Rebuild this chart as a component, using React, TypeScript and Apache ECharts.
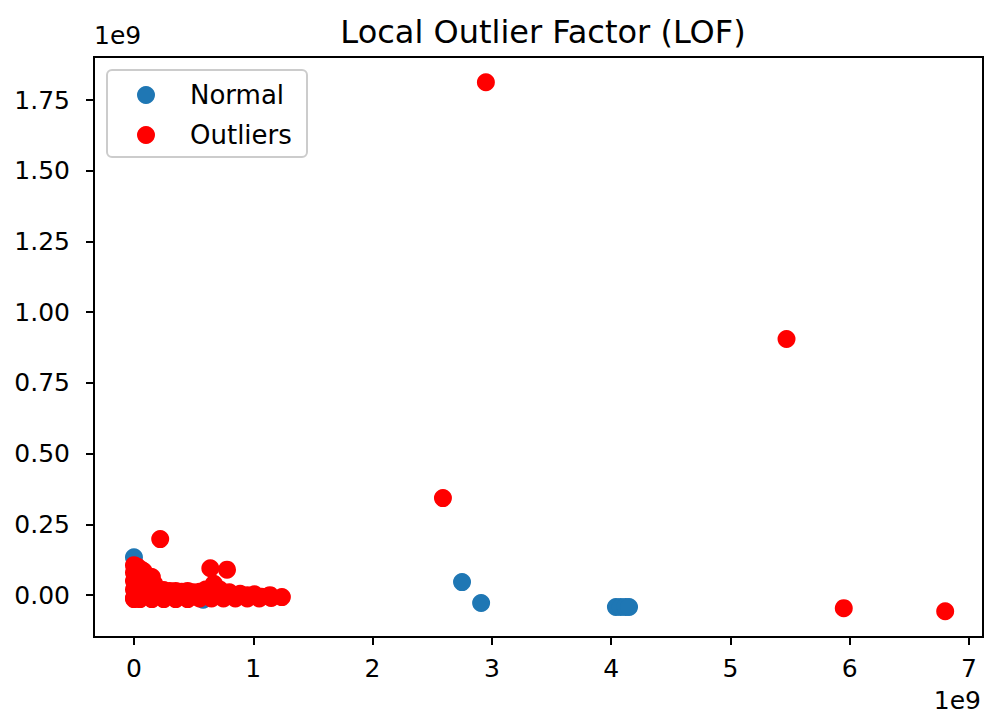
import React, { useEffect, useRef } from "react";
import * as echarts from "echarts";

// values in units of 1e9
const normalPoints: number[][] = [
  [0.0, 0.134], [0.05, 0.05], [0.3, 0.0], [0.58, -0.016],
  [2.75, 0.046], [2.91, -0.028],
  [4.04, -0.042], [4.08, -0.042], [4.12, -0.042], [4.15, -0.042],
];

const outlierPoints: number[][] = [
  [2.95, 1.813], [5.47, 0.905], [2.59, 0.343], [5.95, -0.046], [6.8, -0.057], [0.22, 0.198],
  [0.0, 0.106], [0.0, 0.08], [0.0, 0.05], [0.0, 0.02], [0.0, -0.01], [0.0, -0.014],
  [0.03, 0.1], [0.06, 0.09], [0.08, 0.085], [0.1, 0.07], [0.13, 0.066], [0.15, 0.064],
  [0.17, 0.04], [0.2, 0.02], [0.25, 0.018], [0.3, 0.015], [0.35, 0.015], [0.4, 0.012],
  [0.45, 0.015], [0.5, 0.01], [0.55, 0.012], [0.6, 0.02], [0.64, 0.095], [0.67, 0.04],
  [0.72, 0.02], [0.78, 0.09], [0.8, 0.01], [0.85, 0.0], [0.89, 0.005], [0.95, 0.0],
  [1.01, 0.003], [1.07, -0.006], [1.14, 0.0], [1.24, -0.007],
  [0.05, -0.014], [0.15, -0.014], [0.25, -0.014], [0.35, -0.014], [0.45, -0.014],
  [0.55, -0.012], [0.65, -0.012], [0.75, -0.012], [0.85, -0.012], [0.95, -0.012],
  [1.05, -0.012], [1.15, -0.01],
  [0.05, 0.03], [0.1, 0.01], [0.15, 0.03], [0.2, 0.0], [0.08, 0.05], [0.12, 0.04],
  [0.3, 0.0], [0.4, -0.005], [0.5, -0.005], [0.62, 0.0], [0.7, 0.0],
];

const xTicks = [0, 1, 2, 3, 4, 5, 6, 7];
const yTicks = [0, 0.25, 0.5, 0.75, 1.0, 1.25, 1.5, 1.75];
const seriesNames = ["Normal", "Outliers"];
const titleText = "Local Outlier Factor (LOF)";
const offsetText = "1e9";

const FONT = "DejaVu Sans";

export default function App() {
  const ref = useRef<HTMLDivElement>(null);
  useEffect(() => {
    if (!ref.current) return;
    const chart = echarts.init(ref.current, null, { renderer: "svg" });
    chart.setOption({
      animation: false,
      backgroundColor: "#ffffff",
      textStyle: { fontFamily: FONT },
      title: {
        text: titleText,
        left: 538,
        top: 11,
        textAlign: "center",
        textStyle: { fontFamily: FONT, fontSize: 32, fontWeight: "normal", color: "#000" },
      },
      grid: {
        left: 94,
        top: 57,
        right: 2,
        bottom: 78,
        show: true,
        borderColor: "#000",
        borderWidth: 2,
        backgroundColor: "transparent",
      },
      legend: {
        data: seriesNames,
        orient: "vertical",
        left: 137,
        top: 82,
        itemWidth: 26,
        itemHeight: 18,
        itemGap: 14,
        icon: "circle",
        padding: 0,
        textStyle: { fontFamily: FONT, fontSize: 26, color: "#000", padding: [0, 0, 0, 26] },
      },
      graphic: [
        {
          type: "rect",
          shape: { x: 107, y: 70, width: 200, height: 87, r: 5 },
          style: { fill: "rgba(255,255,255,0.8)", stroke: "#cccccc", lineWidth: 2 },
          z: -1,
        },
        {
          type: "text",
          x: 94,
          y: 23,
          style: { text: offsetText, fontFamily: FONT, fontSize: 25, fill: "#000" },
        },
        {
          type: "text",
          x: 981,
          y: 688,
          style: { text: offsetText, fontFamily: FONT, fontSize: 25, fill: "#000", textAlign: "right" },
        },
      ],
      xAxis: {
        type: "value",
        min: -0.335,
        max: 7.117,
        splitLine: { show: false },
        axisLine: { show: true, onZero: false, lineStyle: { color: "#000", width: 2 } },
        axisTick: { show: true, length: 8, customValues: xTicks, lineStyle: { color: "#000", width: 2 } },
        axisLabel: {
          customValues: xTicks,
          margin: 19,
          fontFamily: FONT,
          fontSize: 25,
          color: "#000",
          formatter: (v: number) => String(v),
        },
      },
      yAxis: {
        type: "value",
        min: -0.148,
        max: 1.902,
        splitLine: { show: false },
        axisLine: { show: true, onZero: false, lineStyle: { color: "#000", width: 2 } },
        axisTick: { show: true, length: 8, customValues: yTicks, lineStyle: { color: "#000", width: 2 } },
        axisLabel: {
          customValues: yTicks,
          margin: 24,
          fontFamily: FONT,
          fontSize: 25,
          color: "#000",
          formatter: (v: number) => v.toFixed(2),
        },
      },
      series: [
        {
          name: seriesNames[0],
          type: "scatter",
          data: normalPoints,
          symbolSize: 18,
          itemStyle: { color: "#1f77b4", opacity: 1 },
        },
        {
          name: seriesNames[1],
          type: "scatter",
          data: outlierPoints,
          symbolSize: 18,
          itemStyle: { color: "#ff0000", opacity: 1 },
        },
      ],
    });
    return () => chart.dispose();
  }, []);
  return (
    <div
      ref={ref}
      style={{ position: "absolute", left: 0, top: 0, width: 985, height: 715 }}
    />
  );
}
